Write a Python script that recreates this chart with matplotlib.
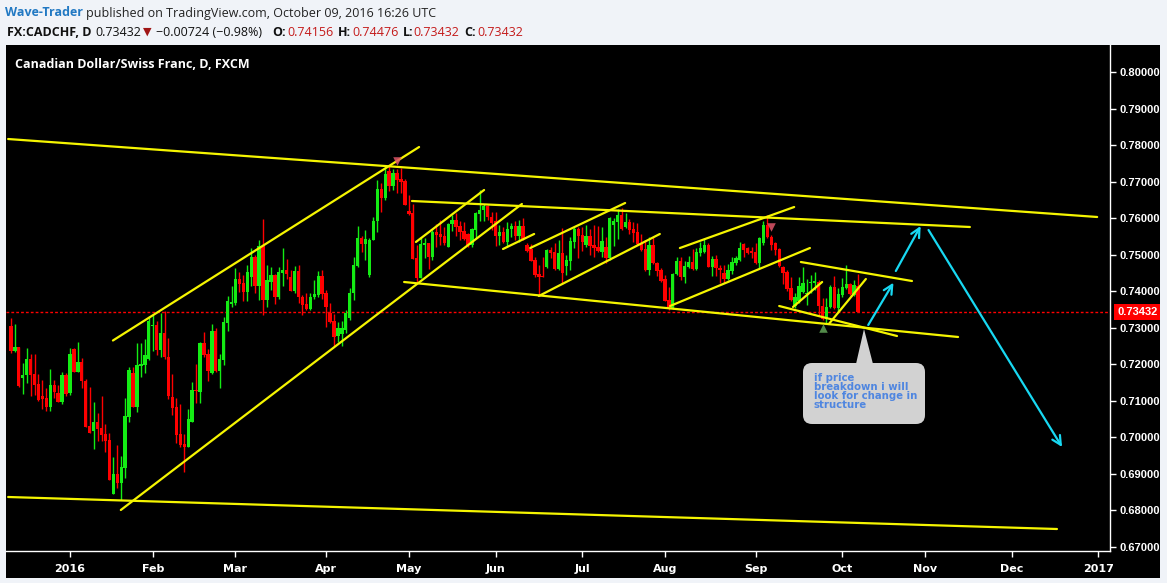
import numpy as np
import matplotlib
matplotlib.use('Agg')
import matplotlib.pyplot as plt
from matplotlib.patches import FancyBboxPatch, Polygon
from matplotlib.transforms import Affine2D

# daily CADCHF candles, bar index 0 = 2016-01-01 (first bar 2015-12-11)
first_bar = -15
opens = [0.7305, 0.7236, 0.7247, 0.7163, 0.7170, 0.7214, 0.7174, 0.7146, 0.7113, 0.7108,
         0.7083, 0.7143, 0.7121, 0.7098, 0.7171, 0.7121, 0.7242, 0.7180, 0.7206, 0.7154,
         0.7031, 0.7018, 0.7042, 0.7027, 0.7010, 0.6993, 0.6845, 0.6900, 0.6874, 0.6917,
         0.7057, 0.7176, 0.7084, 0.7196, 0.7198, 0.7214, 0.7305, 0.7308, 0.7239, 0.7287,
         0.7220, 0.7110, 0.7083, 0.7009, 0.6982, 0.6975, 0.7043, 0.7130, 0.7125, 0.7259,
         0.7229, 0.7176, 0.7291, 0.7183, 0.7212, 0.7314, 0.7365, 0.7368, 0.7433, 0.7423,
         0.7399, 0.7440, 0.7494, 0.7413, 0.7525, 0.7376, 0.7426, 0.7445, 0.7385, 0.7451,
         0.7458, 0.7440, 0.7400, 0.7456, 0.7385, 0.7365, 0.7351, 0.7384, 0.7391, 0.7442,
         0.7394, 0.7340, 0.7319, 0.7278, 0.7282, 0.7294, 0.7326, 0.7394, 0.7470, 0.7547,
         0.7529, 0.7445, 0.7539, 0.7591, 0.7680, 0.7656, 0.7730, 0.7688, 0.7723, 0.7706,
         0.7703, 0.7620, 0.7615, 0.7492, 0.7437, 0.7527, 0.7531, 0.7493, 0.7563, 0.7557,
         0.7551, 0.7522, 0.7584, 0.7595, 0.7579, 0.7565, 0.7557, 0.7527, 0.7568, 0.7612,
         0.7621, 0.7632, 0.7602, 0.7591, 0.7550, 0.7563, 0.7536, 0.7569, 0.7579, 0.7551,
         0.7579, 0.7527, 0.7515, 0.7486, 0.7447, 0.7442, 0.7465, 0.7513, 0.7508, 0.7460,
         0.7504, 0.7469, 0.7484, 0.7536, 0.7569, 0.7554, 0.7527, 0.7551, 0.7527, 0.7522,
         0.7508, 0.7522, 0.7490, 0.7581, 0.7590, 0.7609, 0.7577, 0.7590, 0.7570, 0.7563,
         0.7531, 0.7515, 0.7458, 0.7527, 0.7476, 0.7458, 0.7433, 0.7376, 0.7353, 0.7447,
         0.7483, 0.7440, 0.7467, 0.7481, 0.7460, 0.7504, 0.7508, 0.7527, 0.7467, 0.7487,
         0.7463, 0.7451, 0.7433, 0.7456, 0.7478, 0.7486, 0.7529, 0.7517, 0.7511, 0.7508,
         0.7476, 0.7531, 0.7581, 0.7548, 0.7531, 0.7515, 0.7467, 0.7454, 0.7408, 0.7360,
         0.7372, 0.7399, 0.7393, 0.7422, 0.7423, 0.7426, 0.7360, 0.7323, 0.7356, 0.7411,
         0.7353, 0.7390, 0.7408, 0.7420, 0.7390, 0.74156]
highs = [0.7326, 0.7310, 0.7248, 0.7203, 0.7245, 0.7227, 0.7228, 0.7174, 0.7157, 0.7135,
         0.7186, 0.7157, 0.7144, 0.7179, 0.7175, 0.7246, 0.7246, 0.7261, 0.7217, 0.7159,
         0.7137, 0.7097, 0.7066, 0.7112, 0.7036, 0.7012, 0.6946, 0.6978, 0.6948, 0.7108,
         0.7194, 0.7192, 0.7257, 0.7258, 0.7269, 0.7332, 0.7334, 0.7318, 0.7340, 0.7345,
         0.7271, 0.7173, 0.7107, 0.7092, 0.7009, 0.7077, 0.7151, 0.7201, 0.7262, 0.7289,
         0.7241, 0.7311, 0.7299, 0.7228, 0.7329, 0.7388, 0.7414, 0.7464, 0.7453, 0.7444,
         0.7471, 0.7517, 0.7498, 0.7539, 0.7598, 0.7472, 0.7467, 0.7447, 0.7467, 0.7518,
         0.7488, 0.7458, 0.7469, 0.7471, 0.7389, 0.7394, 0.7396, 0.7431, 0.7456, 0.7458,
         0.7404, 0.7369, 0.7338, 0.7315, 0.7318, 0.7350, 0.7408, 0.7493, 0.7579, 0.7552,
         0.7568, 0.7545, 0.7604, 0.7705, 0.7695, 0.7741, 0.7743, 0.7734, 0.7734, 0.7736,
         0.7706, 0.7663, 0.7639, 0.7527, 0.7548, 0.7545, 0.7533, 0.7568, 0.7584, 0.7595,
         0.7575, 0.7588, 0.7609, 0.7615, 0.7591, 0.7589, 0.7560, 0.7572, 0.7617, 0.7677,
         0.7638, 0.7636, 0.7618, 0.7618, 0.7581, 0.7577, 0.7589, 0.7586, 0.7593, 0.7595,
         0.7600, 0.7531, 0.7529, 0.7495, 0.7472, 0.7495, 0.7515, 0.7522, 0.7531, 0.7540,
         0.7572, 0.7499, 0.7549, 0.7575, 0.7575, 0.7575, 0.7581, 0.7569, 0.7581, 0.7579,
         0.7577, 0.7549, 0.7602, 0.7600, 0.7624, 0.7627, 0.7613, 0.7599, 0.7590, 0.7586,
         0.7558, 0.7540, 0.7549, 0.7549, 0.7480, 0.7463, 0.7444, 0.7412, 0.7449, 0.7495,
         0.7495, 0.7484, 0.7496, 0.7515, 0.7517, 0.7536, 0.7545, 0.7533, 0.7496, 0.7499,
         0.7472, 0.7472, 0.7474, 0.7493, 0.7496, 0.7536, 0.7533, 0.7522, 0.7522, 0.7533,
         0.7548, 0.7593, 0.7609, 0.7554, 0.7536, 0.7517, 0.7469, 0.7458, 0.7438, 0.7394,
         0.7440, 0.7467, 0.7433, 0.7444, 0.7453, 0.7431, 0.7381, 0.7381, 0.7417, 0.7442,
         0.7408, 0.7435, 0.7472, 0.7422, 0.7431, 0.74476]
lows = [0.7230, 0.7235, 0.7137, 0.7119, 0.7148, 0.7113, 0.7116, 0.7100, 0.7077, 0.7072,
        0.7072, 0.7109, 0.7097, 0.7091, 0.7114, 0.7116, 0.7179, 0.7178, 0.7135, 0.7028,
        0.7012, 0.6967, 0.6991, 0.6991, 0.6961, 0.6883, 0.6844, 0.6861, 0.6829, 0.6890,
        0.7043, 0.7083, 0.7070, 0.7164, 0.7176, 0.7213, 0.7237, 0.7226, 0.7219, 0.7215,
        0.7106, 0.7060, 0.6984, 0.6975, 0.6904, 0.6973, 0.7043, 0.7095, 0.7095, 0.7219,
        0.7155, 0.7174, 0.7180, 0.7134, 0.7198, 0.7291, 0.7358, 0.7362, 0.7397, 0.7373,
        0.7372, 0.7413, 0.7394, 0.7376, 0.7335, 0.7358, 0.7404, 0.7365, 0.7379, 0.7413,
        0.7433, 0.7401, 0.7396, 0.7367, 0.7336, 0.7349, 0.7349, 0.7380, 0.7385, 0.7378,
        0.7303, 0.7314, 0.7249, 0.7260, 0.7250, 0.7285, 0.7320, 0.7376, 0.7465, 0.7508,
        0.7486, 0.7440, 0.7539, 0.7563, 0.7618, 0.7650, 0.7674, 0.7677, 0.7670, 0.7670,
        0.7636, 0.7609, 0.7487, 0.7424, 0.7435, 0.7490, 0.7461, 0.7486, 0.7522, 0.7527,
        0.7527, 0.7522, 0.7566, 0.7550, 0.7540, 0.7539, 0.7522, 0.7522, 0.7545, 0.7591,
        0.7591, 0.7595, 0.7568, 0.7525, 0.7527, 0.7533, 0.7522, 0.7549, 0.7540, 0.7536,
        0.7540, 0.7508, 0.7484, 0.7440, 0.7387, 0.7438, 0.7463, 0.7490, 0.7458, 0.7458,
        0.7420, 0.7444, 0.7458, 0.7517, 0.7490, 0.7511, 0.7522, 0.7499, 0.7495, 0.7508,
        0.7495, 0.7478, 0.7486, 0.7524, 0.7542, 0.7567, 0.7572, 0.7558, 0.7536, 0.7527,
        0.7511, 0.7456, 0.7444, 0.7475, 0.7442, 0.7426, 0.7372, 0.7349, 0.7351, 0.7445,
        0.7431, 0.7422, 0.7463, 0.7458, 0.7458, 0.7496, 0.7506, 0.7465, 0.7442, 0.7442,
        0.7422, 0.7422, 0.7431, 0.7447, 0.7472, 0.7484, 0.7493, 0.7502, 0.7490, 0.7475,
        0.7463, 0.7527, 0.7547, 0.7513, 0.7499, 0.7467, 0.7420, 0.7402, 0.7372, 0.7353,
        0.7367, 0.7394, 0.7363, 0.7394, 0.7403, 0.7331, 0.7321, 0.7310, 0.7353, 0.7351,
        0.7344, 0.7385, 0.7405, 0.7390, 0.7387, 0.73432]
closes = [0.7236, 0.7247, 0.7141, 0.7171, 0.7214, 0.7171, 0.7143, 0.7101, 0.7106, 0.7083,
          0.7143, 0.7124, 0.7098, 0.7171, 0.7119, 0.7228, 0.7180, 0.7207, 0.7153, 0.7029,
          0.7013, 0.7042, 0.7022, 0.7007, 0.6991, 0.6884, 0.6900, 0.6874, 0.6919, 0.7059,
          0.7184, 0.7084, 0.7198, 0.7202, 0.7225, 0.7319, 0.7308, 0.7239, 0.7287, 0.7219,
          0.7113, 0.7081, 0.7007, 0.6978, 0.6975, 0.7050, 0.7130, 0.7126, 0.7259, 0.7226,
          0.7181, 0.7291, 0.7183, 0.7215, 0.7316, 0.7373, 0.7371, 0.7434, 0.7420, 0.7399,
          0.7453, 0.7494, 0.7413, 0.7523, 0.7376, 0.7431, 0.7445, 0.7385, 0.7453, 0.7458,
          0.7447, 0.7402, 0.7456, 0.7383, 0.7362, 0.7351, 0.7385, 0.7393, 0.7442, 0.7393,
          0.7358, 0.7317, 0.7276, 0.7300, 0.7300, 0.7340, 0.7394, 0.7472, 0.7547, 0.7529,
          0.7542, 0.7540, 0.7592, 0.7680, 0.7656, 0.7721, 0.7688, 0.7723, 0.7705, 0.7700,
          0.7636, 0.7612, 0.7488, 0.7437, 0.7529, 0.7531, 0.7493, 0.7563, 0.7554, 0.7548,
          0.7531, 0.7585, 0.7595, 0.7575, 0.7563, 0.7542, 0.7527, 0.7570, 0.7615, 0.7622,
          0.7632, 0.7602, 0.7588, 0.7550, 0.7563, 0.7536, 0.7569, 0.7579, 0.7551, 0.7579,
          0.7542, 0.7511, 0.7484, 0.7444, 0.7440, 0.7440, 0.7513, 0.7506, 0.7460, 0.7504,
          0.7451, 0.7486, 0.7537, 0.7569, 0.7551, 0.7536, 0.7551, 0.7524, 0.7517, 0.7510,
          0.7537, 0.7490, 0.7600, 0.7593, 0.7609, 0.7569, 0.7590, 0.7568, 0.7560, 0.7529,
          0.7513, 0.7458, 0.7527, 0.7476, 0.7456, 0.7429, 0.7374, 0.7353, 0.7447, 0.7483,
          0.7440, 0.7469, 0.7481, 0.7460, 0.7508, 0.7517, 0.7527, 0.7467, 0.7487, 0.7463,
          0.7458, 0.7433, 0.7458, 0.7481, 0.7490, 0.7517, 0.7513, 0.7506, 0.7506, 0.7476,
          0.7545, 0.7581, 0.7548, 0.7527, 0.7513, 0.7469, 0.7449, 0.7405, 0.7376, 0.7383,
          0.7414, 0.7422, 0.7396, 0.7426, 0.7429, 0.7360, 0.7323, 0.7356, 0.7411, 0.7353,
          0.7392, 0.7411, 0.7420, 0.7392, 0.7417, 0.73432]

# month ticks (bar index) and labels
month_pos = [0, 21, 42, 65, 86, 108, 130, 151, 174, 196, 217, 239, 261]
month_lab = ['2016', 'Feb', 'Mar', 'Apr', 'May', 'Jun', 'Jul', 'Aug', 'Sep', 'Oct', 'Nov', 'Dec', '2017']
price_ticks = [0.67, 0.68, 0.69, 0.70, 0.71, 0.72, 0.73, 0.74, 0.75, 0.76, 0.77, 0.78, 0.79, 0.80]

# hand drawn trend lines: (bar, price) -> (bar, price)
tl_x0 = [-15.7, -15.7, 12.9, 10.9, 86.8, 84.8, 87.8, 109.9, 119.0, 116.8, 154.8, 152.3, 185.5, 180.0, 183.5, 192.6]
tl_p0 = [0.78166, 0.68369, 0.68013, 0.72652, 0.76470, 0.74253, 0.75348, 0.75156, 0.73870, 0.75183,
         0.75183, 0.73596, 0.74800, 0.73596, 0.73569, 0.73103]
tl_x1 = [260.7, 250.5, 114.7, 88.6, 228.4, 225.4, 105.1, 117.8, 149.7, 140.9, 183.8, 187.8, 213.7, 209.9, 190.9, 202.0]
tl_p1 = [0.76032, 0.67493, 0.76388, 0.77947, 0.75758, 0.72748, 0.76771, 0.75567, 0.75567, 0.76415,
         0.76305, 0.75183, 0.74280, 0.72775, 0.74253, 0.74335]

# projected path arrows
arr_x0 = [202.6, 209.6, 217.9]
arr_p0 = [0.73076, 0.74554, 0.75676]
arr_x1 = [209.0, 215.9, 251.8]
arr_p1 = [0.74234, 0.75785, 0.69737]

# pivot markers
sell_bars = [83, 178]
sell_px = [0.7757, 0.7577]
buy_bars = [191]
buy_px = [0.7300]

W, H = 1167, 583
fig = plt.figure(figsize=(W / 100, H / 100), dpi=100, facecolor='#f0f3f8')
pix = Affine2D().scale(1, -1).translate(0, H)  # pixel coords, origin top left


def rect(x0, y0, x1, y1):
    return [x0 / W, 1 - y1 / H, (x1 - x0) / W, (y1 - y0) / H]


panel = fig.add_axes(rect(6, 45, 1160, 578), facecolor='black')
panel.set_xticks([])
panel.set_yticks([])
for s in panel.spines.values():
    s.set_visible(False)

ax = fig.add_axes(rect(6, 45, 1110, 551), facecolor='black')
ax.set_xlim(-16.24, 263.96)
ax.set_ylim(0.66891, 0.80739)

o = np.array(opens)
h = np.array(highs)
l = np.array(lows)
c = np.array(closes)
idx = np.arange(len(c)) + first_bar
col = np.where(c >= o, '#14ec14', '#ff0000')

ax.vlines(idx, l, h, colors=col, linewidth=1.0, zorder=3)
ax.bar(idx, np.maximum(np.abs(c - o), 0.0003), bottom=np.minimum(o, c), width=0.85,
       color=col, linewidth=0, zorder=4)

# last price line
ax.axhline(c[-1], color='#ff0000', lw=1, ls=(0, (2, 1.5)), zorder=2)

for x0, p0, x1, p1 in zip(tl_x0, tl_p0, tl_x1, tl_p1):
    ax.plot([x0, x1], [p0, p1], color='#f5f500', lw=1.6, zorder=5, solid_capstyle='round')

for x0, p0, x1, p1 in zip(arr_x0, arr_p0, arr_x1, arr_p1):
    ax.annotate('', xy=(x1, p1), xytext=(x0, p0),
                arrowprops=dict(arrowstyle='->', color='#18d8f2', lw=1.6, mutation_scale=16,
                                shrinkA=0, shrinkB=0), zorder=6)

ax.scatter(sell_bars, sell_px, marker='v', s=38, color='#e0566a', alpha=0.85, zorder=6, linewidths=0)
ax.scatter(buy_bars, buy_px, marker='^', s=38, color='#5c9a52', alpha=0.9, zorder=6, linewidths=0)

# axes styling
for side in ['left', 'top']:
    ax.spines[side].set_visible(False)
for side in ['right', 'bottom']:
    ax.spines[side].set_color('white')
    ax.spines[side].set_linewidth(1)

ax.yaxis.tick_right()
ax.set_yticks(price_ticks)
ax.set_yticklabels([f'{p:.5f}' for p in price_ticks])
ax.set_xticks(month_pos)
ax.set_xticklabels(month_lab)
ax.tick_params(colors='white', length=4, width=1)
ax.tick_params(axis='y', pad=3)
ax.tick_params(axis='x', pad=5)
for t in ax.get_yticklabels():
    t.set_family(['Liberation Sans', 'DejaVu Sans'])
    t.set_fontweight('bold')
    t.set_fontsize(8)
for t in ax.get_xticklabels():
    t.set_family(['Liberation Sans Narrow', 'DejaVu Sans'])
    t.set_fontweight('bold')
    t.set_fontsize(8)

ax.text(1.0 + 7 / 1104, c[-1], f'{c[-1]:.5f}', transform=ax.get_yaxis_transform(),
        ha='left', va='center', color='white', fontsize=8, fontweight='bold',
        family=['Liberation Sans', 'DejaVu Sans'], clip_on=False, zorder=10,
        bbox=dict(boxstyle='square,pad=0.28', fc='#ff0000', ec='none'))

# callout note
note_c = '#d2d2d2'
fig.add_artist(FancyBboxPatch((803, 363), 122, 61, boxstyle='round,pad=0,rounding_size=9',
                              transform=pix, fc=note_c, ec='none', zorder=20))
fig.add_artist(Polygon([(856, 364), (864, 329), (873, 364)], closed=True, transform=pix,
                       fc=note_c, ec='none', zorder=20))
fig.text(814, 373, 'if price\nbreakdown i will\nlook for change in\nstructure', transform=pix,
         ha='left', va='top', color='#4f86e0', fontsize=7.3, fontweight='bold',
         family='DejaVu Sans', linespacing=0.86, zorder=21)

# header text
hf = ['Open Sans', 'DejaVu Sans']


def ptext(x, y, s, **kw):
    kw.setdefault('family', hf)
    kw.setdefault('fontsize', 9)
    fig.text(x, y, s, transform=pix, ha='left', va='center', **kw)


ptext(5, 13, 'Wave-Trader', color='#2279c3', fontweight='bold')
ptext(86, 13, 'published on TradingView.com, October 09, 2016 16:26 UTC', color='#222222')
ptext(7, 32, 'FX:CADCHF, D', color='#111111', fontweight='bold')
ptext(95, 32, '0.73432', color='#111111')
ptext(143, 32, '\u25bc', color='#a01515', fontsize=8, family=['DejaVu Sans'])
ptext(156, 32, '\u22120.00724 (\u22120.98%)', color='#111111')
val_x = [272, 338, 403, 464]
val_name = ['O:', 'H:', 'L:', 'C:']
val_num = ['0.74156', '0.74476', '0.73432', '0.73432']
val_off = [15, 14.5, 10, 13]
for vx, vn, vv, dx in zip(val_x, val_name, val_num, val_off):
    ptext(vx, 32, vn, color='#111111', fontweight='bold')
    ptext(vx + dx, 32, vv, color='#c41a1a')

ptext(15, 65, 'Canadian Dollar/Swiss Franc, D, FXCM', color='white', fontweight='bold')

fig.savefig('out.png', dpi=100, facecolor=fig.get_facecolor())
